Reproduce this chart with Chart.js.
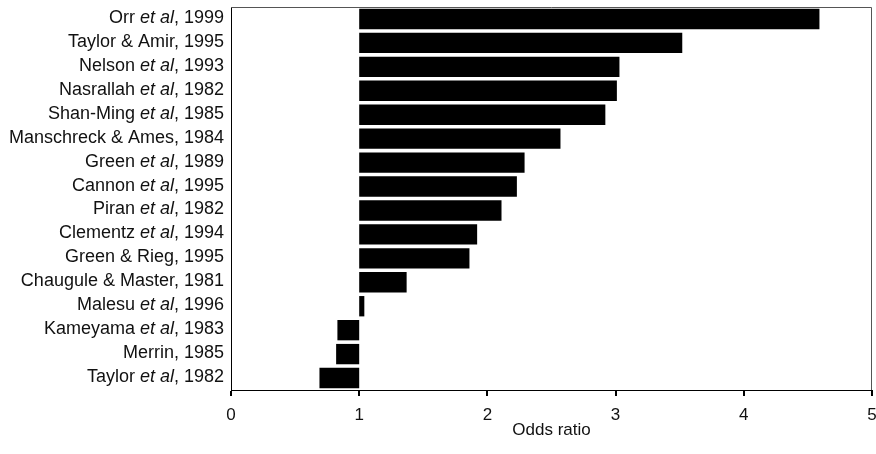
<!DOCTYPE html>
<html>
<head>
<meta charset="utf-8">
<script src="https://cdn.jsdelivr.net/npm/chart.js@4/dist/chart.umd.min.js"></script>
<style>
html,body{margin:0;padding:0;background:#fff;}
#wrap{width:876px;height:454px;}
</style>
</head>
<body>
<div id="wrap"><canvas id="c" width="876" height="454"></canvas></div>
<script>
const studies = [
  "Orr et al, 1999",
  "Taylor & Amir, 1995",
  "Nelson et al, 1993",
  "Nasrallah et al, 1982",
  "Shan-Ming et al, 1985",
  "Manschreck & Ames, 1984",
  "Green et al, 1989",
  "Cannon et al, 1995",
  "Piran et al, 1982",
  "Clementz et al, 1994",
  "Green & Rieg, 1995",
  "Chaugule & Master, 1981",
  "Malesu et al, 1996",
  "Kameyama et al, 1983",
  "Merrin, 1985",
  "Taylor et al, 1982"
];
const oddsRatios = [4.59, 3.52, 3.03, 3.01, 2.92, 2.57, 2.29, 2.23, 2.11, 1.92, 1.86, 1.37, 1.04, 0.83, 0.82, 0.69];
const baseline = 1;
const xTicks = [0, 1, 2, 3, 4, 5];

const FONT = '"Liberation Sans", Arial, sans-serif';

const labelPlugin = {
  id: 'studyLabels',
  afterDraw(chart) {
    const ctx = chart.ctx;
    const ys = chart.scales.y;
    const area = chart.chartArea;
    ctx.save();
    // frame top and right
    ctx.strokeStyle = '#555';
    ctx.lineWidth = 1;
    ctx.beginPath();
    ctx.moveTo(area.left, area.top + 0.5);
    ctx.lineTo(area.right - 0.5, area.top + 0.5);
    ctx.lineTo(area.right - 0.5, area.bottom);
    ctx.stroke();
    ctx.fillStyle = '#111';
    ctx.textBaseline = 'middle';
    ctx.textAlign = 'left';
    const xRight = area.left - 7;
    studies.forEach((lab, i) => {
      const y = ys.getPixelForValue(i) - 1;
      const parts = [];
      const idx = lab.indexOf('et al');
      if (idx >= 0) {
        parts.push({t: lab.slice(0, idx), it: false});
        parts.push({t: 'et al', it: true});
        parts.push({t: lab.slice(idx + 5), it: false});
      } else {
        parts.push({t: lab, it: false});
      }
      let total = 0;
      parts.forEach(p => {
        ctx.font = (p.it ? 'italic ' : '') + '18px ' + FONT;
        p.w = ctx.measureText(p.t).width;
        total += p.w;
      });
      let x = xRight - total;
      parts.forEach(p => {
        ctx.font = (p.it ? 'italic ' : '') + '18px ' + FONT;
        ctx.fillText(p.t, x, y);
        x += p.w;
      });
    });
    ctx.restore();
  }
};

new Chart(document.getElementById('c'), {
  type: 'bar',
  data: {
    labels: studies,
    datasets: [{
      data: oddsRatios.map(v => [baseline, v]),
      backgroundColor: '#000',
      borderWidth: 0,
      categoryPercentage: 1.0,
      barPercentage: 0.85
    }]
  },
  options: {
    indexAxis: 'y',
    responsive: false,
    animation: false,
    events: [],
    layout: { padding: { top: 7, right: 4, left: 0, bottom: 0 } },
    plugins: { legend: { display: false }, tooltip: { enabled: false } },
    scales: {
      x: {
        type: 'linear',
        min: 0,
        max: 5,
        afterBuildTicks(s) { s.ticks = xTicks.map(v => ({ value: v })); },
        afterFit(s) { s.height = 64; s.paddingLeft = 0; s.paddingRight = 0; },
        grid: { drawOnChartArea: false, drawTicks: true, tickLength: 6, color: '#000', lineWidth: 2 },
        border: { display: true, color: '#000', width: 1 },
        ticks: { color: '#111', font: { family: FONT, size: 17 }, padding: 9, maxRotation: 0 },
        title: { display: true, text: 'Odds ratio', color: '#111', font: { family: FONT, size: 17 }, padding: { top: 0, bottom: 13 } }
      },
      y: {
        afterFit(s) { s.width = 231; },
        grid: { display: false },
        border: { display: true, color: '#000', width: 1 },
        ticks: { display: false }
      }
    }
  },
  plugins: [labelPlugin]
});
</script>
</body>
</html>
